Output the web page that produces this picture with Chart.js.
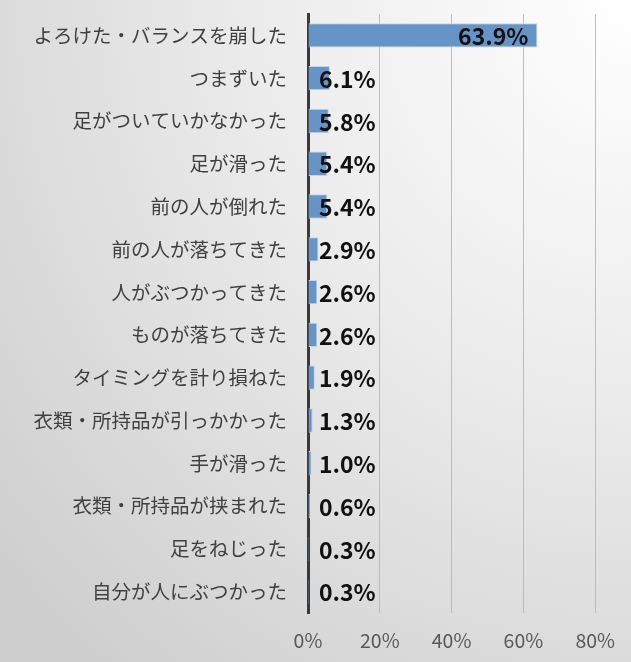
<!DOCTYPE html>
<html>
<head>
<meta charset="utf-8">
<script src="https://cdn.jsdelivr.net/npm/chart.js@4"></script>
<style>
html,body{margin:0;padding:0;width:631px;height:662px;overflow:hidden;}
body{background:radial-gradient(ellipse 130% 130% at 100% 0%, #ffffff 0%, #ececec 45%, #cfcfcf 100%);}
#wrap{position:relative;width:631px;height:662px;}
</style>
</head>
<body>
<div id="wrap"><canvas id="c" width="631" height="662"></canvas></div>
<script>
const categories = ["よろけた・バランスを崩した","つまずいた","足がついていかなかった","足が滑った","前の人が倒れた","前の人が落ちてきた","人がぶつかってきた","ものが落ちてきた","タイミングを計り損ねた","衣類・所持品が引っかかった","手が滑った","衣類・所持品が挟まれた","足をねじった","自分が人にぶつかった"];
const values = [63.9,6.1,5.8,5.4,5.4,2.9,2.6,2.6,1.9,1.3,1.0,0.6,0.3,0.3];
const tickValues = [0,20,40,60,80];

const FONT = '"Noto Sans CJK JP", "Noto Sans", sans-serif';

const labelPlugin = {
  id: 'valLabels',
  afterDatasetsDraw(chart) {
    const ctx = chart.ctx;
    const meta = chart.getDatasetMeta(0);
    const xs = chart.scales.x;
    ctx.save();
    ctx.font = 'bold 23px ' + FONT;
    ctx.fillStyle = '#111111';
    ctx.textBaseline = 'middle';
    meta.data.forEach((bar, i) => {
      const txt = values[i].toFixed(1) + '%';
      if (i === 0) {
        ctx.textAlign = 'right';
        ctx.fillText(txt, bar.x - 9, bar.y + 1);
      } else {
        ctx.textAlign = 'left';
        ctx.fillText(txt, xs.getPixelForValue(0) + 11, bar.y + 1);
      }
    });
    ctx.restore();
  }
};

new Chart(document.getElementById('c'), {
  type: 'bar',
  data: {
    labels: categories,
    datasets: [{
      data: values,
      backgroundColor: '#6794c7',
      borderColor: '#c3d4ea',
      borderWidth: 1,
      categoryPercentage: 0.57,
      barPercentage: 1.0
    }]
  },
  options: {
    indexAxis: 'y',
    responsive: false,
    animation: false,
    layout: { padding: { top: 0, right: 35, bottom: 0, left: 0 } },
    plugins: { legend: { display: false }, tooltip: { enabled: false } },
    scales: {
      x: {
        min: 0, max: 80,
        afterBuildTicks(scale) { scale.ticks = tickValues.map(v => ({ value: v })); },
        afterFit(scale) { scale.height = 49; },
        grid: { color: '#bdbdbd', lineWidth: 1, drawTicks: false },
        border: { display: false },
        ticks: {
          padding: 16,
          color: '#595959',
          font: { family: FONT, size: 19.5 },
          callback: v => v + '%'
        }
      },
      y: {
        afterFit(scale) { scale.width = 308; scale.paddingTop = 14; scale.paddingBottom = 0; },
        grid: { display: false },
        border: { display: true, color: '#3a3a3a', width: 3 },
        ticks: {
          padding: 13,
          color: '#404040',
          font: { family: FONT, size: 19.5 }
        }
      }
    }
  },
  plugins: [labelPlugin]
});
</script>
</body>
</html>
